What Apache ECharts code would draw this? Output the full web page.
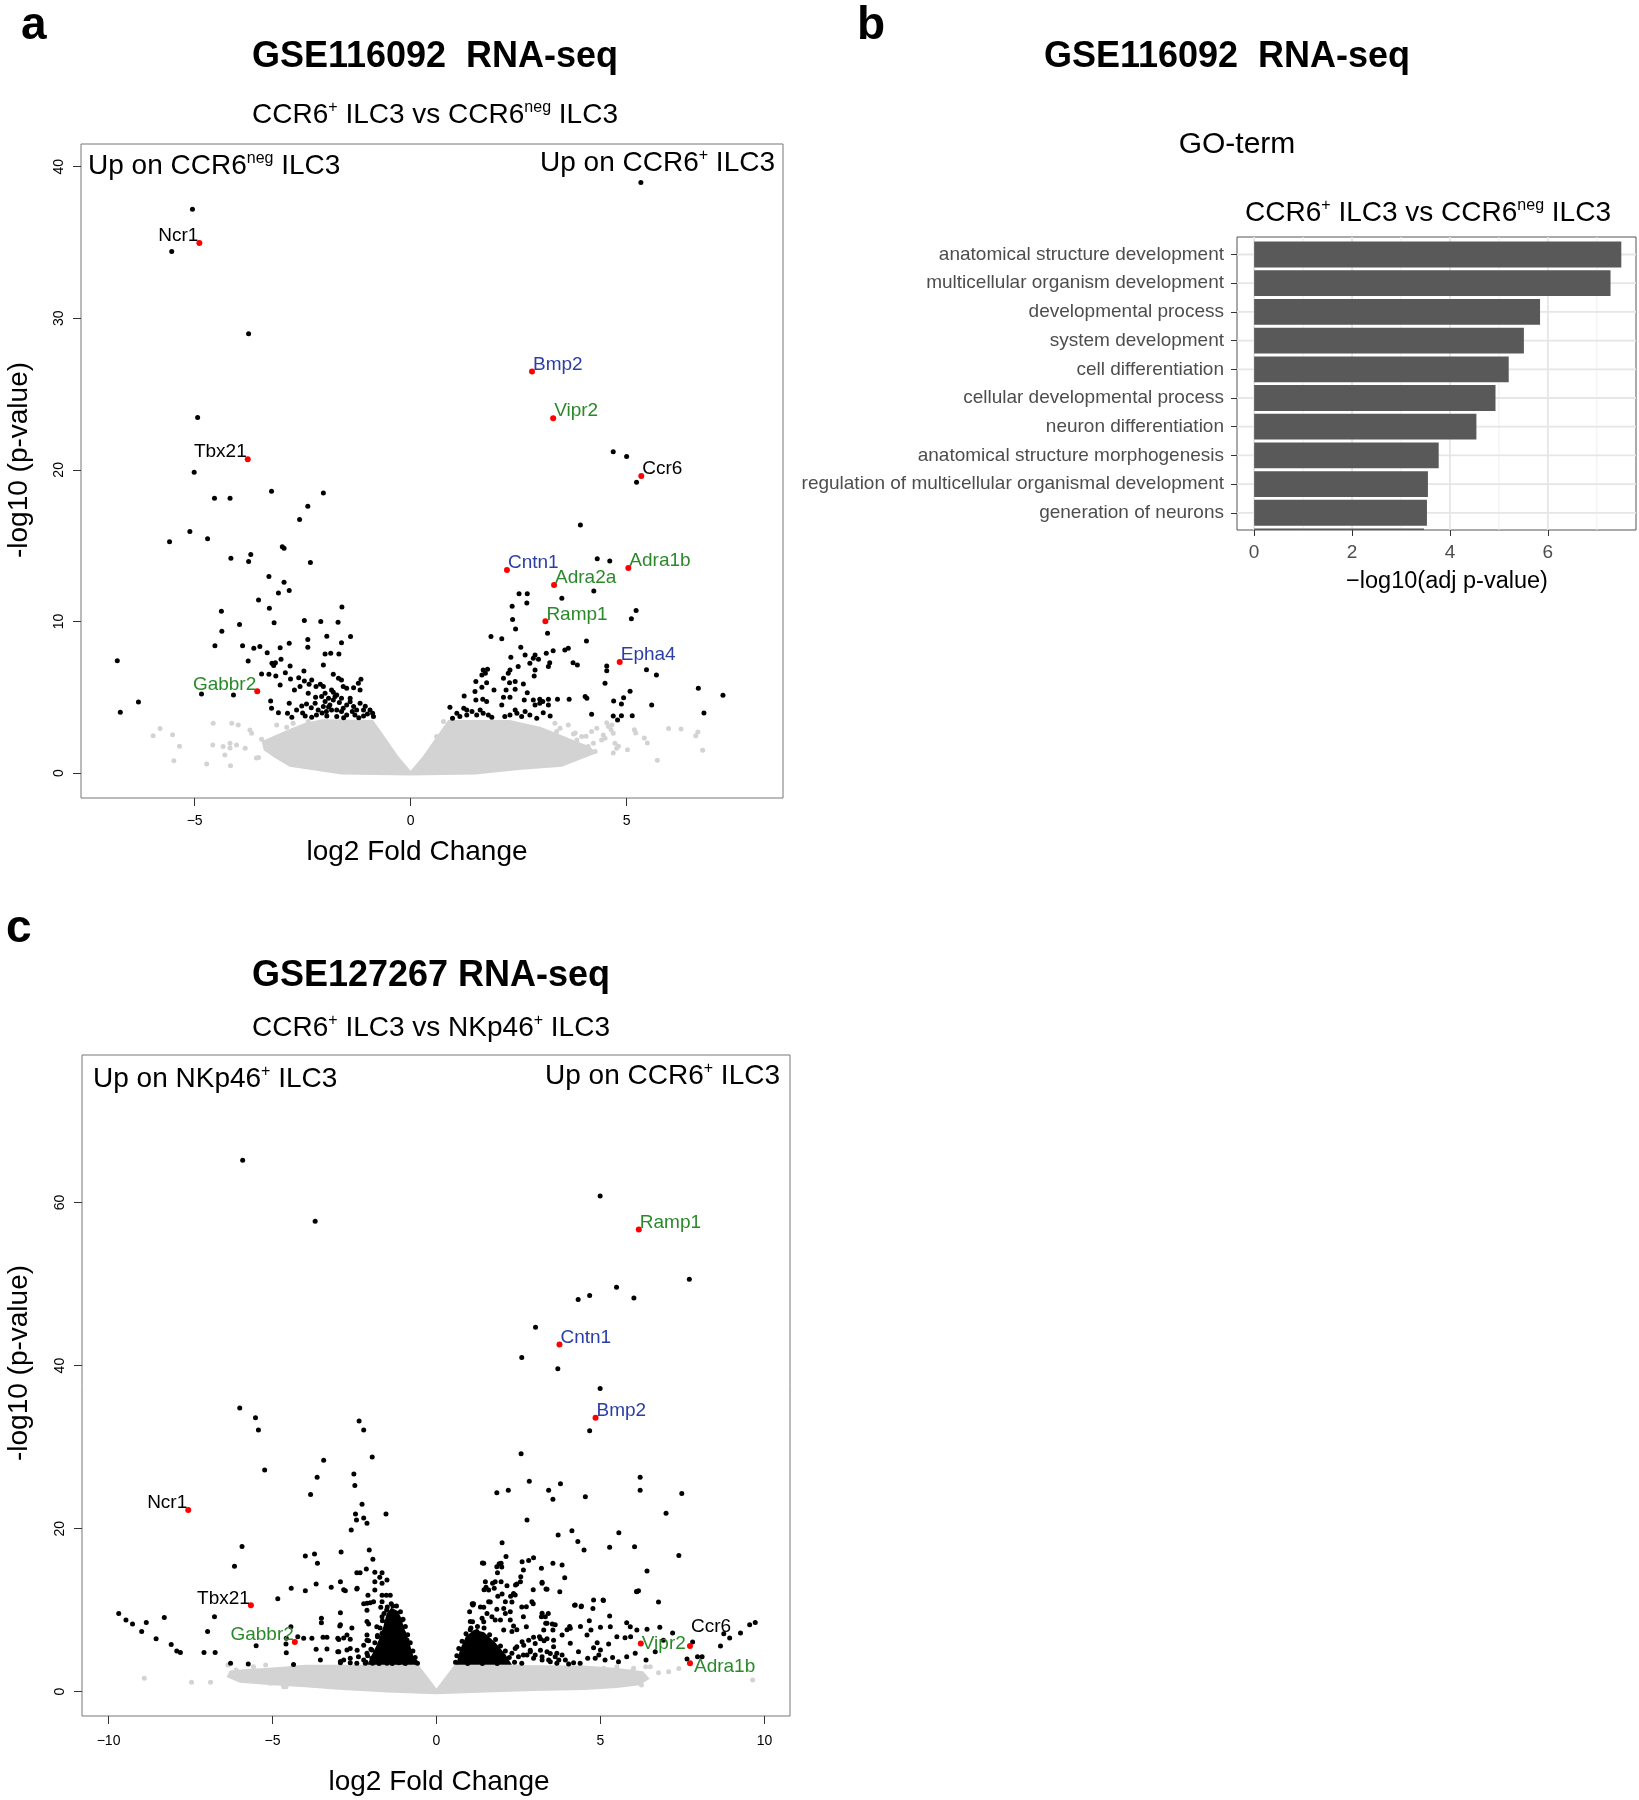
<!DOCTYPE html>
<html><head><meta charset="utf-8">
<script src="https://cdn.jsdelivr.net/npm/echarts@6/dist/echarts.min.js"></script>
<style>html,body{margin:0;padding:0;background:#fff}#c{width:1639px;height:1800px}</style>
</head><body><div id="c"></div>
<script>
// ---------------- DATA ----------------
// Panel a: GSE116092, CCR6+ vs CCR6neg (x = log2 fold change, y = -log10 p)
const a_xTicks = [-5, 0, 5];
const a_yTicks = [0, 10, 20, 30, 40];
const a_genes = ['Ncr1','Tbx21','Gabbr2','Bmp2','Vipr2','Ccr6','Cntn1','Adra1b','Adra2a','Ramp1','Epha4'];
const a_geneX = [-4.89,-3.77,-3.55,2.81,3.30,5.34,2.23,5.04,3.32,3.12,4.84];
const a_geneY = [34.96,20.70,5.39,26.49,23.41,19.60,13.40,13.53,12.41,10.01,7.33];
const a_black = [
[5.33,38.96],[-5.05,37.2],[-5.53,34.4],[-3.75,28.98],[-4.93,23.45],
[-5.01,19.85],[-3.22,18.59],[-2.02,18.48],[-4.54,18.13],[-4.18,18.13],[-2.38,17.60],[-2.57,16.72],[-5.11,15.93],[-4.70,15.45],[-5.58,15.25],[-2.97,14.92],[-2.93,14.83],[-3.70,14.41],[-4.16,14.17],[-3.75,13.95],[-2.32,13.88],[-3.28,12.96],[-2.93,12.59],[-2.81,12.04],[-3.06,11.88],[-3.52,11.42],[-1.59,10.96],[-3.27,10.87],[-4.38,10.67],[-2.46,10.06],[-2.08,9.99],[-1.68,9.95],[-3.16,9.92],[-3.96,9.79],[-4.37,9.35],[-1.94,9.02],[-1.39,9.00],[-2.38,8.80],[-6.79,7.41],[-6.30,4.69],[-6.72,4.00],
[4.69,21.19],[5.0,20.88],[5.23,19.19],[3.93,16.37],[4.32,14.13],[4.61,13.99],[4.24,12.01],[2.51,11.82],[2.70,11.82],[3.50,11.53],[2.69,11.22],[2.35,11.00],[5.22,10.72],[5.11,10.17],[2.36,10.12],[2.43,9.50],[3.17,9.22],[1.86,9.00],[2.11,8.85],[4.07,8.71],[5.46,6.82],[5.69,6.47],[6.66,5.59],[5.08,5.39],[7.23,5.13],[5.58,4.49],[8.83,4.20],[6.79,3.96],[5.13,3.78],[4.88,3.78],[4.93,4.97],[4.88,4.55],
[-4.53,8.40],[-3.89,8.40],[-3.63,8.23],[-3.49,8.34],[-3.32,7.94],[-3.02,8.27],[-2.81,8.56],[-2.38,8.29],[-1.60,8.60],[-3.76,7.39],[-3.21,7.24],[-3.13,7.28],[-3.17,7.10],[-3.00,7.50],[-2.79,7.06],[-2.47,6.73],[-1.98,7.85],[-1.85,7.90],[-1.66,7.85],[-2.02,7.13],[-3.45,6.53],[-3.28,6.51],[-3.12,6.40],[-2.90,6.62],[-2.78,6.20],[-2.59,6.29],[-2.46,6.07],[-2.29,6.14],[-2.35,5.85],[-2.19,5.70],[-2.09,5.85],[-2.02,5.70],[-1.79,6.51],[-1.67,6.25],[-1.60,6.14],[-1.56,5.70],[-1.48,5.59],[-1.32,5.63],[-1.15,6.18],[-1.21,5.92],[-1.17,5.48],[-3.02,5.81],[-2.69,5.48],[-2.56,5.70],[-2.37,5.26],[-1.98,5.26],[-1.79,5.32],[-1.90,4.93],[-1.79,4.82],[-1.60,4.93],[-1.40,4.93],[-1.98,4.71],[-2.21,4.60],[-2.41,4.55],[-2.52,4.42],[-2.64,4.16],[-2.81,4.60],[-3.24,4.75],[-3.22,4.27],[-3.06,3.98],[-2.85,3.94],[-2.75,3.67],[-2.44,3.76],[-2.29,3.67],[-2.14,4.16],[-2.02,4.38],[-1.87,4.49],[-1.71,4.16],[-1.56,4.27],[-1.48,4.49],[-1.32,4.38],[-1.25,4.16],[-1.09,4.16],[-0.94,4.16],[-0.88,3.94],[-2.18,3.83],[-1.94,3.76],[-1.71,3.72],[-1.48,3.83],[-1.29,3.83],[-1.09,3.76],[-0.86,3.72],[-1.60,4.05],[-1.83,4.16],[-1.17,4.60],[-4.84,5.21],[-4.10,5.15],[-1.71,5.15],[-2.06,5.04],[-1.83,5.48],
[-1.95,4.05],[-2.05,3.95],[-1.55,3.65],[-1.35,4.05],[-1.20,3.65],[-1.00,3.90],[-2.30,4.30],[-1.65,4.65],[-1.90,4.35],[-1.40,4.70],[-1.05,4.40],[-2.50,3.95],[-1.75,5.05],[-2.20,5.00],
[2.55,8.29],[2.65,7.79],[2.88,7.79],[2.84,7.57],[2.96,7.50],[3.14,7.90],[3.30,8.07],[3.57,8.12],[3.65,8.23],[3.76,7.28],[3.86,7.13],[3.22,7.28],[2.76,7.24],[3.19,7.02],[4.54,7.06],[4.54,6.75],[2.32,7.63],[2.30,6.80],[2.26,6.58],[2.49,7.02],[2.88,6.80],[2.86,6.40],[1.68,6.80],[1.78,6.84],[1.73,6.58],[1.65,6.47],[1.51,6.03],[1.76,5.96],[2.15,6.25],[2.29,5.96],[2.42,6.03],[2.61,5.87],[2.70,5.30],[2.42,5.52],[2.21,5.48],[1.93,5.48],[1.49,5.37],[1.65,5.65],[1.24,5.08],[1.51,4.82],[1.67,4.86],[1.76,4.71],[2.15,4.99],[2.30,4.99],[2.63,4.82],[2.84,4.82],[2.99,4.86],[3.06,4.71],[3.19,4.86],[3.40,4.86],[3.67,4.86],[4.04,5.04],[4.08,4.93],[4.50,5.92],[4.70,4.75],[2.88,4.49],[2.99,4.60],[3.19,4.49],[2.11,4.49],[1.23,4.27],[1.30,4.16],[0.91,4.33],[1.07,3.94],[0.97,3.61],[1.14,3.72],[1.30,3.83],[1.42,4.05],[1.53,3.83],[1.61,4.16],[1.68,3.94],[1.80,3.83],[1.88,3.67],[2.30,3.83],[2.42,4.16],[2.46,3.94],[2.57,3.72],[2.65,4.05],[2.76,3.83],[2.92,3.61],[3.07,3.98],[3.23,3.76],[4.19,3.87],[4.69,3.76],[2.18,3.72],[4.79,3.50]
];
const a_grayCore = [[0,0.15],[-0.28,1.08],[-0.55,2.2],[-0.87,3.5],[-2.05,3.55],[-2.45,3.3],[-2.8,2.9],[-3.2,2.4],[-3.45,2.1],[-3.4,1.5],[-3.15,1.0],[-2.8,0.42],[-1.6,-0.1],[0,-0.17],[1.5,-0.1],[2.5,0.2],[3.5,0.42],[4.3,1.3],[4.15,1.75],[3.75,2.2],[3.4,2.6],[3.0,3.05],[2.6,3.3],[2.3,3.5],[0.87,3.5],[0.55,2.2],[0.28,1.08]];
const a_gray = [
[-4.57,3.28],[-4.14,3.28],[-3.99,3.17],[-3.72,2.84],[-3.68,2.62],[-3.45,2.22],[-4.58,1.85],[-4.34,1.74],[-4.18,1.96],[-4.03,1.85],[-3.83,1.63],[-4.30,1.19],[-4.72,0.59],[-4.17,0.48],[-3.52,1.03],[-3.14,1.30],[-3.02,1.08],[-2.79,2.18],[-3.10,3.17],[-2.87,3.01],[-2.72,3.28],[-2.37,3.39],
[0.76,3.39],[0.60,2.40],[3.34,3.28],[3.46,2.95],[3.65,3.17],[3.38,2.73],[3.77,2.57],[3.85,2.18],[3.96,2.40],[4.19,2.73],[4.31,2.95],[4.54,3.32],[4.58,3.06],[4.66,3.17],[4.42,2.18],[4.50,2.29],[4.23,1.96],[4.11,1.74],[4.27,1.41],[3.69,1.52],[3.84,1.19],[3.61,0.86],[3.34,0.68],[4.77,1.63],[4.69,2.62],[4.46,2.51],[4.73,1.96],[2.11,0.46],[2.76,0.86],[2.99,1.08],
[-5.96,2.46],[-5.80,2.93],[-5.51,2.53],[-5.35,1.76],[-5.48,0.81],[-4.18,1.65],[-3.57,0.99],
[4.64,2.86],[4.69,1.32],[4.81,1.76],[5.02,1.54],[5.18,2.86],[5.21,2.64],[5.71,0.84],[5.97,2.93],[6.26,2.90],[6.60,2.46],[6.65,2.71],[6.76,1.50],[5.48,1.98],[5.41,2.31],[4.06,2.42],[3.81,2.64],[3.57,1.21],[1.76,0.22]
];

// Panel b: GO terms, -log10(adj p-value)
const go_terms = ['anatomical structure development','multicellular organism development','developmental process','system development','cell differentiation','cellular developmental process','neuron differentiation','anatomical structure morphogenesis','regulation of multicellular organismal development','generation of neurons',''];
const go_values = [7.50,7.28,5.84,5.51,5.20,4.93,4.54,3.77,3.55,3.53,3.47];
const go_xMajor = [0,2,4,6];
const go_xMinor = [1,3,5,7];

// Panel c: GSE127267, CCR6+ vs NKp46+
const c_xTicks = [-10,-5,0,5,10];
const c_yTicks = [0,20,40,60];
const c_genes = ['Ncr1','Tbx21','Gabbr2','Ramp1','Cntn1','Bmp2','Vipr2','Ccr6','Adra1b'];
const c_geneX = [-7.57,-5.66,-4.32,6.17,3.75,4.85,6.23,7.73,7.73];
const c_geneY = [22.3,10.6,6.1,56.7,42.6,33.6,5.9,5.6,3.5];
const c_black = [
[-5.91,65.2],[-3.70,57.7],[4.99,60.8],[7.71,50.6],[5.49,49.6],[4.67,48.6],[4.32,48.1],[6.02,48.3],[3.02,44.7],
[2.60,41.0],[3.70,39.6],[4.99,37.2],[4.67,32.0],[2.58,29.2],[-6.00,34.8],[-5.52,33.6],[-5.43,32.1],[-2.36,33.2],[-2.22,32.1],[-1.96,28.8],[-5.24,27.2],[-3.44,28.4],[-3.64,26.3],[-2.52,26.7],[-2.49,25.3],[-3.84,24.2],[-2.27,23.0],[-2.47,21.8],[-2.22,21.3],[-1.54,21.8],[-5.93,17.8],[-6.16,15.4],
[2.83,25.8],[3.78,25.5],[3.42,24.7],[3.55,23.6],[2.19,24.7],[1.84,24.4],[6.21,26.3],[6.21,24.7],[4.54,23.9],[7.48,24.3],[7.0,21.9],
[7.39,16.7],[6.77,11.0],[6.81,7.9],[6.92,6.3],[7.20,7.2],[7.81,6.1],[8.76,7.1],[8.94,6.6],[9.27,7.2],[9.55,8.2],[9.72,8.5],[8.66,5.6],[7.64,4.0],[7.96,4.3],[8.10,4.3],[6.67,4.9],
[-6.77,9.2],[-9.69,9.6],[-9.47,8.8],[-9.27,8.3],[-8.85,8.5],[-8.99,7.4],[-8.30,9.1],[-8.55,6.5],[-8.09,5.8],[-7.92,5.0],[-7.81,4.8],[-6.98,7.4],[-7.09,4.8],[-6.75,4.8],[-6.28,3.5],[-5.74,3.4],
[-2.44,21.07],[-2.12,20.66],[-2.60,19.84],[-4.0,16.65],[-3.72,16.89],[-3.63,15.75],[-2.91,17.14],[-2.05,17.38],[-1.94,16.24],[-2.14,15.05],[-2.43,14.60],[-2.33,14.60],[-1.88,14.64],[-1.66,14.60],[-1.73,14.03],[-1.51,13.70],[-1.66,13.29],[-1.88,13.50],[-4.43,12.68],[-4.0,12.39],[-3.67,13.21],[-3.21,12.80],[-2.93,13.50],[-2.78,12.39],[-2.43,12.60],[-1.88,12.47],[-2.09,11.82],[-1.66,11.82],[-1.53,11.82],[-1.41,11.82],[-4.84,11.41],[-2.12,10.84],[-1.92,11.04],[-1.66,11.04],[-1.33,10.52],[-1.70,10.35],[-1.52,10.02],[-2.93,9.69],[-1.35,9.41],[-1.20,9.61],[-1.66,9.20],[-3.51,9.00],[-3.51,8.47],[-2.95,8.06],[-2.07,8.31],[-1.82,7.98],[-1.52,8.59],[-1.20,8.39],[-1.05,8.79],[-4.44,7.98],[-3.46,6.67],[-3.34,6.67],[-3.01,6.55],[-2.73,6.96],[-2.63,6.42],[-2.12,6.96],[-2.07,6.26],[-1.80,6.75],[-1.72,5.93],[-1.66,7.16],[-1.49,6.55],[-1.31,6.96],[-1.20,6.14],[-1.00,7.16],[-0.90,6.34],[-4.23,6.75],[-4.05,6.55],[-3.80,6.55],[-4.58,6.55],[-4.59,5.85],[-4.58,4.79],[-5.50,5.65],[-3.67,5.20],[-3.34,5.24],[-3.01,4.91],[-2.73,5.11],[-2.38,4.30],[-2.12,4.71],[-1.97,5.11],[-1.71,4.91],[-1.51,5.52],[-1.41,4.71],[-1.20,4.91],[-1.05,5.52],[-0.95,4.71],[-0.85,5.11],[-3.54,3.89],[-2.93,3.56],[-2.63,3.56],[-2.43,3.48],[-2.22,3.89],[-2.17,3.48],[-1.97,4.09],[-1.76,3.68],[-1.61,4.09],[-1.51,3.48],[-1.31,3.89],[-1.15,3.56],[-1.00,3.89],[-0.80,3.68],[-0.65,3.68],[-4.36,3.35],
[-2.42,12.7],[-2.83,12.5],[-2.02,10.9],[-2.22,10.8],[-2.12,10.0],[-2.93,8.2],[-2.58,7.8],[-2.83,6.6],[-2.98,6.4],[-2.12,8.6],[-2.63,5.3],[-2.42,5.1],[-2.98,4.9],[-2.83,3.9],[-2.63,4.1],[-2.93,3.7],[-2.22,5.7],[-2.12,6.3],
[-2.15,3.6],[-2.1,4.4],[-2.0,5.2],[-1.88,6.0],[-1.8,6.9],[-1.72,7.8],[-1.65,8.7],[-1.6,9.6],[-1.5,10.4],[-1.38,10.8],[-1.22,10.5],[-1.1,9.8],[-1.02,8.9],[-0.95,8.0],[-0.88,7.0],[-0.8,6.0],[-0.72,5.0],[-0.65,4.2],[-0.58,3.5],[-1.95,3.5],[-1.75,3.45],[-1.35,3.45],[-0.95,3.45],
[2.76,21.07],[3.71,19.23],[4.13,19.75],[4.31,18.41],[4.50,17.38],[5.28,17.71],[5.56,19.51],[6.04,17.79],[6.42,14.80],[6.11,12.27],[6.16,12.39],[2.0,18.28],[2.12,16.57],[1.97,15.75],[1.84,15.34],[1.86,14.60],[1.44,15.75],[2.61,15.95],[2.81,16.08],[2.96,16.44],[2.65,14.93],[3.20,15.14],[3.55,15.75],[3.83,15.55],[3.91,13.99],[3.22,13.42],[3.37,12.56],[3.76,12.27],[1.49,13.50],[1.79,13.50],[1.97,13.50],[1.59,12.47],[1.76,12.68],[2.0,11.99],[2.10,11.04],[2.35,12.06],[2.40,11.86],[2.56,13.50],[2.45,13.21],[2.91,11.04],[2.74,10.43],[2.65,9.20],[1.59,11.04],[1.11,10.63],[1.44,10.35],[1.84,10.10],[2.25,9.82],[1.69,9.20],[1.95,8.79],[1.44,8.59],[1.10,8.59],[3.22,9.61],[3.32,9.20],[3.53,8.31],[3.27,7.57],[3.55,7.57],[2.74,7.98],[2.35,8.06],[2.05,7.57],[4.23,10.63],[4.41,10.43],[4.79,11.25],[5.08,11.25],[5.28,9.28],[4.66,8.71],[4.71,7.57],[5.0,7.90],[5.30,7.98],[5.80,8.47],[5.91,7.98],[6.11,7.57],[6.42,7.65],[5.92,6.75],[4.59,6.96],[4.90,6.01],[4.79,5.40],[5.0,5.11],[5.25,5.85],[4.95,4.50],[4.61,4.09],[4.84,4.09],[5.14,3.89],[5.37,4.21],[5.55,3.68],[5.80,4.30],[6.06,4.71],[6.39,3.89],[5.50,6.75],[5.75,6.63],[4.08,7.78],[3.83,6.96],[4.08,5.93],[4.33,4.91],[4.38,3.48],[4.18,3.56],[4.03,3.40],[2.96,6.67],[3.14,6.75],[3.28,6.26],[3.37,4.91],[3.57,5.52],[3.67,4.71],[3.83,4.50],[3.73,3.89],[3.47,3.68],[3.22,4.30],[3.01,4.50],[2.86,4.91],[2.65,4.50],[2.45,5.52],[2.61,6.14],[2.30,4.71],
[1.40,15.8],[1.91,15.7],[5.09,11.2],[4.21,10.6],[4.42,10.5],[4.77,10.2],[6.10,12.3],[4.39,8.0],[4.06,8.0],[3.41,9.6],[3.33,8.4],[3.20,9.2],[2.60,10.4],[2.95,10.8],[3.34,12.6],[3.22,13.3],[2.26,11.7],[2.15,13.0],[2.41,13.1],[1.71,13.3],[1.51,12.8],[1.45,12.5],[1.87,11.7],[1.99,15.3],[2.57,14.1],[2.95,12.5],[1.09,10.8],[1.01,9.8],
[1.13,10.8],[1.34,10.4],[1.64,11.0],[2.05,10.2],[2.30,11.0],[1.54,9.6],[2.10,9.6],[1.03,8.6],[1.39,9.0],[1.79,8.8],[2.25,8.8],[3.37,8.4],[3.62,8.2],[3.98,7.6],[1.03,7.6],[1.23,7.4],[2.45,7.6],[2.30,7.4],[3.17,6.5],[3.37,6.5],[3.57,6.3],[2.81,6.3],[3.01,5.9],[2.66,5.7],[2.40,5.3],[2.86,5.1],[3.17,5.1],[3.47,4.7],[3.62,4.3],[3.22,3.9],[3.42,3.9],[3.67,3.5],[3.93,3.9],[2.96,4.1],[2.76,4.5],
[0.58,3.6],[0.62,4.4],[0.68,5.3],[0.78,6.2],[0.9,7.1],[1.05,7.8],[1.25,8.0],[1.45,7.8],[1.62,7.0],[1.8,6.4],[1.95,5.6],[2.1,5.0],[2.22,4.2],[2.38,3.6],[2.6,3.5],[2.5,4.3],[0.95,3.45],[1.4,3.45],[1.85,3.45]
];
const c_coreLeft = [[-2.1,3.3],[-2.0,4.3],[-1.8,5.9],[-1.62,8.0],[-1.52,9.6],[-1.38,10.3],[-1.22,10.0],[-1.1,9.3],[-1.0,8.0],[-0.82,5.9],[-0.7,4.3],[-0.6,3.3]];
const c_coreRight = [[0.6,3.3],[0.72,5.2],[0.9,6.8],[1.15,7.6],[1.45,7.3],[1.8,6.0],[2.1,4.6],[2.3,3.3]];
const c_grayCore = [[0,0.4],[-0.55,3.3],[-4.0,3.3],[-4.6,3.1],[-5.2,2.9],[-5.8,2.8],[-6.3,2.6],[-6.4,1.8],[-6.0,1.1],[-5.0,0.8],[-4.0,0.55],[-3.0,0.25],[-1.5,-0.1],[0,-0.3],[1.5,-0.1],[3.0,0.1],[4.5,0.2],[5.5,0.45],[6.2,0.8],[6.5,1.6],[6.3,2.5],[5.5,2.9],[4.5,3.2],[0.55,3.3]];
const c_gray = [
[-5.58,3.07],[-5.37,2.46],[-5.12,2.05],[-4.92,2.46],[-4.66,2.66],[-4.51,1.85],[-4.41,2.66],[-5.07,1.03],[-4.66,0.62],[-5.47,1.85],[-4.36,3.07],
[6.52,3.07],[6.01,2.87],[5.50,3.07],[5.10,2.87],[6.32,1.85],[5.81,1.44],
[-8.91,1.64],[-7.47,1.15],[-6.89,1.15],[-6.36,3.27],[-6.11,2.66],[-5.99,2.05],[-5.68,2.45],[-5.75,1.43],[-5.21,3.27],[-4.59,0.61],
[6.25,0.82],[6.38,3.07],[6.77,2.33],[7.08,2.45],[7.39,2.86],[9.64,1.43],[5.99,2.66],[0.6,3.4],[-0.6,3.4]
];

// ---------------- STYLE / LAYOUT ----------------
const FONT = '"Liberation Sans", Arial, Helvetica, sans-serif';
const BLUE = '#2b3ea6', GREEN = '#2a8a2a';
const geneColor = {Ncr1:'#000',Tbx21:'#000',Ccr6:'#000',Bmp2:BLUE,Cntn1:BLUE,Epha4:BLUE,Vipr2:GREEN,Adra1b:GREEN,Adra2a:GREEN,Ramp1:GREEN,Gabbr2:GREEN};
const leftLabel = {Ncr1:1,Tbx21:1,Gabbr2:1};
const extraOffset = {c:{Ccr6:[0,-12],Adra1b:[3,11],Vipr2:[0,7]}};
const minus = v => String(v).replace('-', '\u2212');

function volX(g, min, max, ticks, margin) {
  return {gridIndex:g, type:'value', min, max, axisLine:{show:false, onZero:false}, splitLine:{show:false},
    axisTick:{show:true, customValues:ticks, length:8, lineStyle:{color:'#333', width:1}},
    axisLabel:{customValues:ticks, fontSize:14, color:'#000', margin, fontFamily:FONT, formatter:minus}};
}
function volY(g, min, max, ticks) {
  return {gridIndex:g, type:'value', min, max, axisLine:{show:false, onZero:false}, splitLine:{show:false},
    axisTick:{show:true, customValues:ticks, length:8, lineStyle:{color:'#333', width:1}},
    axisLabel:{customValues:ticks, fontSize:14, color:'#000', margin:15, rotate:90, fontFamily:FONT, formatter:minus}};
}
function polySeries(idx, poly, color, z) {
  return {type:'custom', xAxisIndex:idx, yAxisIndex:idx, data:[[0,0]], z, silent:true, animation:false,
    renderItem:(params, api) => ({type:'polygon', shape:{points:poly.map(d => api.coord(d))}, style:{fill:color}})};
}
function dots(idx, data, color, size, z) {
  return {type:'scatter', xAxisIndex:idx, yAxisIndex:idx, data, symbolSize:size, z, silent:true, animation:false,
    itemStyle:{color, opacity:1, borderWidth:0}};
}
function genes(idx, names, xs, ys, panel) {
  return {type:'scatter', xAxisIndex:idx, yAxisIndex:idx, symbolSize:6, z:5, silent:true, animation:false,
    itemStyle:{color:'#ff0000', opacity:1},
    data: names.map((g, i) => {
      const left = !!leftLabel[g];
      const ex = (extraOffset[panel] && extraOffset[panel][g]) || [0,0];
      return {name:g, value:[xs[i], ys[i]], label:{show:true, formatter:'{b}', position:left?'left':'right', distance:0,
        offset:[(left?2:-2)+ex[0], -7+ex[1]], color:geneColor[g], fontSize:19, fontFamily:FONT}};
    })};
}

const sup = {s:{fontSize:16, verticalAlign:'top', lineHeight:16, fontFamily:FONT, fill:'#000'}};
function T(x, y, text, size, extra) {
  return Object.assign({type:'text', x, y, z:100, silent:true,
    style:Object.assign({text, fontSize:size, fontFamily:FONT, fill:'#000', align:'center', verticalAlign:'middle', lineHeight:Math.round(size*1.12), rich:sup}, (extra && extra.style) || {})},
    extra && extra.rotation ? {rotation:extra.rotation} : {});
}
const bold = (x, y, text, size, align) => T(x, y, text, size, {style:{fontWeight:'bold', align:align || 'center'}});

const option = {
  animation:false,
  textStyle:{fontFamily:FONT},
  grid:[
    {left:81, top:144, width:702, height:654, show:true, borderColor:'#777', borderWidth:1},
    {left:1237, top:237, width:399, height:293, show:true, borderColor:'#555', borderWidth:1},
    {left:82, top:1055, width:708, height:661, show:true, borderColor:'#777', borderWidth:1}
  ],
  xAxis:[
    volX(0, -7.63, 8.62, a_xTicks, 16),
    {gridIndex:1, type:'value', min:-0.35, max:7.8, axisLine:{show:false, onZero:false}, splitLine:{show:false},
      axisTick:{customValues:go_xMajor, length:6, lineStyle:{color:'#333'}},
      axisLabel:{customValues:go_xMajor, fontSize:19, color:'#4d4d4d', margin:13, fontFamily:FONT}},
    volX(2, -10.81, 10.78, c_xTicks, 18)
  ],
  yAxis:[
    volY(0, -1.65, 41.5, a_yTicks),
    {gridIndex:1, type:'value', inverse:true, min:0.39, max:10.6, axisLine:{show:false, onZero:false}, splitLine:{show:false},
      axisTick:{customValues:[1,2,3,4,5,6,7,8,9,10], length:6, lineStyle:{color:'#333'}},
      axisLabel:{customValues:[1,2,3,4,5,6,7,8,9,10], formatter:v => go_terms[Math.round(v)-1] || '', fontSize:19, color:'#4d4d4d', margin:13, fontFamily:FONT}},
    volY(2, -2.98, 78.1, c_yTicks)
  ],
  series:[
    // panel a
    polySeries(0, a_grayCore, '#d3d3d3', 1),
    dots(0, a_gray, '#d3d3d3', 5, 2),
    dots(0, a_black, '#000', 5, 3),
    genes(0, a_genes, a_geneX, a_geneY, 'a'),
    // panel b gridlines
    {type:'custom', xAxisIndex:1, yAxisIndex:1, data:[[0,1]], z:1, silent:true, animation:false,
      renderItem:(params, api) => {
        const cs = params.coordSys, ch = [];
        go_xMinor.forEach(x => { const px = api.coord([x,1])[0]; ch.push({type:'line', shape:{x1:px,y1:cs.y,x2:px,y2:cs.y+cs.height}, style:{stroke:'#efefef', lineWidth:1}}); });
        go_xMajor.forEach(x => { const px = api.coord([x,1])[0]; ch.push({type:'line', shape:{x1:px,y1:cs.y,x2:px,y2:cs.y+cs.height}, style:{stroke:'#e6e6e6', lineWidth:1.8}}); });
        go_values.forEach((v,i) => { const py = api.coord([0,i+1])[1]; if (py < cs.y + cs.height) ch.push({type:'line', shape:{x1:cs.x,y1:py,x2:cs.x+cs.width,y2:py}, style:{stroke:'#e6e6e6', lineWidth:1.8}}); });
        return {type:'group', children:ch};
      }},
    // panel b bars
    {type:'custom', xAxisIndex:1, yAxisIndex:1, z:2, silent:true, animation:false,
      data: go_values.map((v,i) => [v, i+1]),
      renderItem:(params, api) => {
        const val = api.value(0), cat = api.value(1);
        const p0 = api.coord([0, cat - 0.45]), p1 = api.coord([val, cat + 0.45]);
        const cs = params.coordSys;
        const r = echarts.graphic.clipRectByRect(
          {x:p0[0], y:Math.min(p0[1],p1[1]), width:p1[0]-p0[0], height:Math.abs(p1[1]-p0[1])},
          {x:cs.x, y:cs.y, width:cs.width, height:cs.height});
        return r ? {type:'rect', shape:r, style:{fill:'#595959'}} : null;
      }},
    // panel c
    polySeries(2, c_grayCore, '#d3d3d3', 1),
    dots(2, c_gray, '#d3d3d3', 5, 2),
    polySeries(2, c_coreLeft, '#000', 3),
    polySeries(2, c_coreRight, '#000', 3),
    dots(2, c_black, '#000', 5, 3),
    genes(2, c_genes, c_geneX, c_geneY, 'c')
  ],
  graphic:[
    bold(21, 26, 'a', 46, 'left'),
    bold(857, 26, 'b', 46, 'left'),
    bold(6, 929, 'c', 46, 'left'),
    bold(435, 57, 'GSE116092  RNA-seq', 36),
    bold(1227, 57, 'GSE116092  RNA-seq', 36),
    bold(431, 976, 'GSE127267 RNA-seq', 36),
    T(435, 115, 'CCR6{s|+} ILC3 vs CCR6{s|neg} ILC3', 28),
    T(88, 166, 'Up on CCR6{s|neg} ILC3', 28, {style:{align:'left'}}),
    T(775, 163, 'Up on CCR6{s|+} ILC3', 28, {style:{align:'right'}}),
    T(417, 852, 'log2 Fold Change', 28),
    T(19, 460, '-log10 (p-value)', 28, {rotation:Math.PI/2}),
    T(1237, 145, 'GO-term', 30),
    T(1428, 213, 'CCR6{s|+} ILC3 vs CCR6{s|neg} ILC3', 28),
    T(1447, 582, '\u2212log10(adj p-value)', 23.5),
    T(431, 1028, 'CCR6{s|+} ILC3 vs NKp46{s|+} ILC3', 28),
    T(93, 1079, 'Up on NKp46{s|+} ILC3', 28, {style:{align:'left'}}),
    T(780, 1076, 'Up on CCR6{s|+} ILC3', 28, {style:{align:'right'}}),
    T(439, 1782, 'log2 Fold Change', 28),
    T(19, 1363, '-log10 (p-value)', 28, {rotation:Math.PI/2})
  ]
};
const chart = echarts.init(document.getElementById('c'), null, {renderer:'canvas', width:1639, height:1800});
chart.setOption(option);
</script></body></html>
